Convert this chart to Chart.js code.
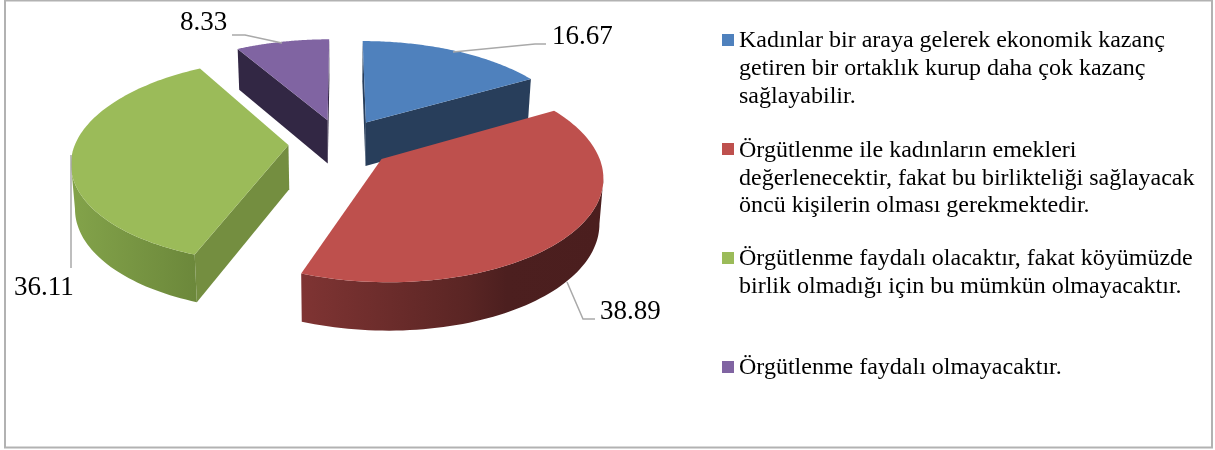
<!DOCTYPE html>
<html lang="tr">
<head>
<meta charset="utf-8">
<style>html,body{margin:0;padding:0;background:#fff}canvas{display:block}</style>
<script src="https://cdn.jsdelivr.net/npm/chart.js@4/dist/chart.umd.min.js"></script>
</head>
<body>
<canvas id="c" width="1215" height="450"></canvas>
<script>
const categories = [
  ["Kadınlar bir araya gelerek ekonomik kazanç", "getiren bir ortaklık kurup daha çok kazanç", "sağlayabilir."],
  ["Örgütlenme ile kadınların emekleri", "değerlenecektir, fakat bu birlikteliği sağlayacak", "öncü kişilerin olması gerekmektedir."],
  ["Örgütlenme faydalı olacaktır, fakat köyümüzde", "birlik olmadığı için bu mümkün olmayacaktır."],
  ["Örgütlenme faydalı olmayacaktır."]
];
const values = [16.67, 38.89, 36.11, 8.33];
const topColors = ["#4F81BD", "#BE504D", "#9BBB59", "#8064A2"];
const cutWallColors = ["#283E5B", "#4B1E1E", "#748E40", "#322744"];
const rimStops = [
  [[0, "#283E5B"], [1, "#283E5B"]],
  [[0, "#7F3433"], [0.55, "#5A2524"], [0.68, "#4C1F1F"], [1, "#4B1E1E"]],
  [[0, "#83A34A"], [1, "#6C883B"]],
  [[0, "#322744"], [1, "#322744"]]
];
const paintOrder = [3, 0, 2, 1];

// projection of the tilted pie plane
const VIEW = {x0: 340.6, y0: 143, kx: 213, ky: 99.4, p: 0.15, explode: 0.245, depth: 44, taper: 0.985};
const FONT = '"Liberation Serif", "Times New Roman", serif';
const labelPos = [[552, 44], [600, 319], [14, 295], [180, 30]];
const leaders = [
  [[453, 52], [535, 44], [546, 44]],
  [[567, 282], [583, 319], [595, 319]],
  [[71, 155], [71, 268]],
  [[282, 43], [245, 35], [232, 35]]
];
const legendBoxes = [[722, 34], [722, 143], [722, 252], [722, 361]];
const legendBaselines = [[47, 75, 103], [157, 185, 212], [265, 293], [374]];

function project(u, v) {
  const d = 1 - VIEW.p * v;
  return {x: VIEW.x0 + VIEW.kx * u / d, y: VIEW.y0 + VIEW.ky * v / d, d};
}
function lower(pt) {
  return {x: VIEW.x0 + (pt.x - VIEW.x0) * VIEW.taper, y: pt.y + VIEW.depth / Math.sqrt(pt.d)};
}
function fillPoly(ctx, pts, fill) {
  ctx.beginPath();
  pts.forEach((q, i) => i ? ctx.lineTo(q.x, q.y) : ctx.moveTo(q.x, q.y));
  ctx.closePath();
  ctx.fillStyle = fill;
  ctx.fill();
}
function drawSlice(ctx, el, i) {
  const a0 = el.startAngle, a1 = el.endAngle, mid = (a0 + a1) / 2;
  const ox = VIEW.explode * Math.cos(mid), oy = VIEW.explode * Math.sin(mid);
  const apex = project(ox, oy);
  const rim = [];
  const n = 90;
  for (let k = 0; k <= n; k++) {
    const a = a0 + (a1 - a0) * k / n;
    rim.push(project(ox + Math.cos(a), oy + Math.sin(a)));
  }
  // cut faces
  const first = rim[0], last = rim[n];
  if (first.x < apex.x) fillPoly(ctx, [apex, first, lower(first), lower(apex)], cutWallColors[i]);
  if (apex.x < last.x) fillPoly(ctx, [last, apex, lower(apex), lower(last)], cutWallColors[i]);
  // curved rim, front-facing part only
  const run = [];
  for (let k = 0; k < n; k++) {
    if (rim[k + 1].x < rim[k].x) {
      if (!run.length) run.push(rim[k]);
      run.push(rim[k + 1]);
    }
  }
  if (run.length > 1) {
    const xs = run.map(q => q.x);
    const g = ctx.createLinearGradient(Math.min(...xs), 0, Math.max(...xs), 0);
    rimStops[i].forEach(s => g.addColorStop(s[0], s[1]));
    fillPoly(ctx, run.concat(run.slice().reverse().map(lower)), g);
  }
  // top face
  fillPoly(ctx, [apex].concat(rim), topColors[i]);
}

const pie3d = {
  id: "pie3d",
  beforeDraw(chart) {
    const ctx = chart.ctx;
    ctx.save();
    ctx.strokeStyle = "#B2B2B2";
    ctx.lineWidth = 2;
    ctx.strokeRect(5, 0.5, 1207, 447);
    ctx.restore();
  },
  beforeDatasetsDraw(chart) {
    const ctx = chart.ctx, arcs = chart.getDatasetMeta(0).data;
    ctx.save();
    paintOrder.forEach(i => drawSlice(ctx, arcs[i], i));
    ctx.strokeStyle = "#A9A9A9";
    ctx.lineWidth = 1.5;
    leaders.forEach(line => {
      ctx.beginPath();
      line.forEach((q, k) => k ? ctx.lineTo(q[0], q[1]) : ctx.moveTo(q[0], q[1]));
      ctx.stroke();
    });
    ctx.fillStyle = "#000";
    ctx.textBaseline = "alphabetic";
    ctx.textAlign = "left";
    ctx.font = "27px " + FONT;
    values.forEach((val, i) => ctx.fillText(val.toFixed(2), labelPos[i][0], labelPos[i][1]));
    ctx.font = "24px " + FONT;
    categories.forEach((lines, i) => {
      ctx.fillStyle = topColors[i];
      ctx.fillRect(legendBoxes[i][0], legendBoxes[i][1], 12, 12);
      ctx.fillStyle = "#000";
      lines.forEach((t, k) => ctx.fillText(t, 739, legendBaselines[i][k]));
    });
    ctx.restore();
    return false;
  }
};

new Chart(document.getElementById("c"), {
  type: "pie",
  data: {
    labels: categories.map(l => l.join(" ")),
    datasets: [{data: values, backgroundColor: topColors, borderWidth: 0}]
  },
  options: {
    responsive: false,
    animation: false,
    plugins: {legend: {display: false}, tooltip: {enabled: false}}
  },
  plugins: [pie3d]
});
</script>
</body>
</html>
